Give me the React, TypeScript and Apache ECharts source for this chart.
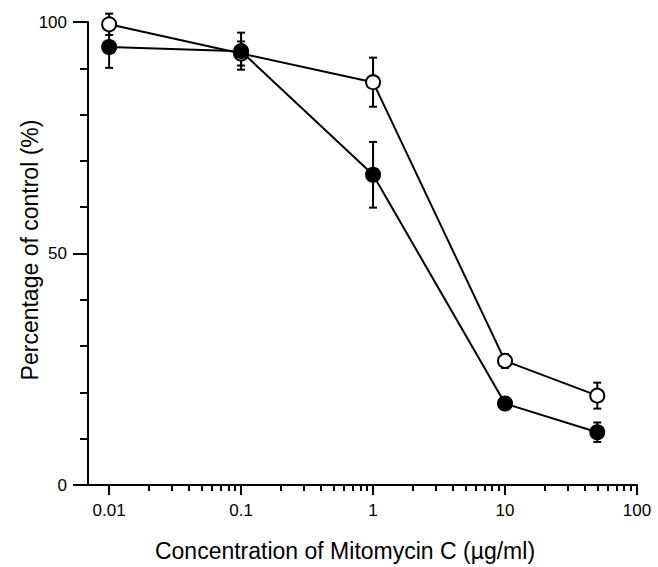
import React, { useEffect, useRef } from "react";
import * as echarts from "echarts";

const concentrations = [0.01, 0.1, 1, 10, 50];
const openMean = [99.5, 93.2, 87.0, 26.8, 19.3];
const openErr = [2.3, 2.6, 5.3, 1.5, 2.8];
const filledMean = [94.6, 93.7, 67.0, 17.6, 11.4];
const filledErr = [4.5, 4.0, 7.1, 1.3, 2.1];
const xTickValues = [0.01, 0.1, 1, 10, 100];
const xTickLabels = ["0.01", "0.1", "1", "10", "100"];
const yTickLabels = ["0", "50", "100"];

const FONT = "Liberation Sans";
const X_MIN = -2.16;
const X_MAX = 2;

export default function App() {
  const ref = useRef<HTMLDivElement>(null);
  useEffect(() => {
    document.body.style.margin = "0";
    const chart = echarts.init(ref.current!, null, { renderer: "svg" });
    const majorX = xTickValues.map((v) => Math.log10(v));
    const minorX: number[] = [];
    for (let d = -2; d <= 1; d++) {
      for (let k = 2; k <= 9; k++) minorX.push(Math.log10(k * Math.pow(10, d)));
    }
    const fmtX = (v: number) => {
      const i = majorX.findIndex((m) => Math.abs(m - v) < 1e-6);
      return i >= 0 ? xTickLabels[i] : "";
    };
    const fmtY = (v: number) => {
      const s = String(Math.round(v));
      return yTickLabels.includes(s) ? s : "";
    };
    const errData = (mean: number[], err: number[]) =>
      concentrations.map((c, i) => [Math.log10(c), mean[i] - err[i], mean[i] + err[i]]);
    const renderErr = (params: any, api: any) => {
      const x = api.value(0);
      const lo = api.coord([x, api.value(1)]);
      const hi = api.coord([x, api.value(2)]);
      const w = 4;
      const style = { stroke: "#000", lineWidth: 2 };
      return {
        type: "group",
        children: [
          { type: "line", shape: { x1: lo[0], y1: lo[1], x2: hi[0], y2: hi[1] }, style },
          { type: "line", shape: { x1: hi[0] - w, y1: hi[1], x2: hi[0] + w, y2: hi[1] }, style },
          { type: "line", shape: { x1: lo[0] - w, y1: lo[1], x2: lo[0] + w, y2: lo[1] }, style },
        ],
      };
    };
    const axisLineStyle = { color: "#000", width: 2 };
    chart.setOption({
      animation: false,
      backgroundColor: "#fff",
      textStyle: { fontFamily: FONT },
      grid: { left: 88, right: 21, top: 22, bottom: 82, containLabel: false },
      xAxis: [
        {
          type: "value",
          position: "bottom",
          min: X_MIN,
          max: X_MAX,
          axisLine: { show: true, onZero: false, lineStyle: axisLineStyle },
          axisTick: { show: true, customValues: majorX, length: 10, lineStyle: { color: "#000", width: 2 } },
          axisLabel: {
            customValues: majorX,
            formatter: fmtX,
            color: "#000",
            fontSize: 17,
            fontFamily: FONT,
            margin: 17,
          },
          splitLine: { show: false },
        },
        {
          type: "value",
          position: "bottom",
          offset: 0,
          min: X_MIN,
          max: X_MAX,
          axisLine: { show: false, onZero: false },
          axisTick: { show: true, customValues: minorX, length: 6, lineStyle: { color: "#000", width: 2 } },
          axisLabel: { show: false },
          splitLine: { show: false },
        },
      ],
      yAxis: [
        {
          type: "value",
          position: "left",
          min: 0,
          max: 100,
          interval: 50,
          axisLine: { show: true, onZero: false, lineStyle: axisLineStyle },
          axisTick: { show: true, length: 15, lineStyle: { color: "#000", width: 2 } },
          axisLabel: { formatter: fmtY, color: "#000", fontSize: 17, fontFamily: FONT, margin: 21 },
          splitLine: { show: false },
        },
        {
          type: "value",
          position: "left",
          offset: 0,
          min: 0,
          max: 100,
          interval: 10,
          axisLine: { show: false, onZero: false },
          axisTick: { show: true, length: 8, lineStyle: { color: "#000", width: 2 } },
          axisLabel: { show: false },
          splitLine: { show: false },
        },
      ],
      graphic: [
        {
          type: "text",
          x: 345,
          y: 551,
          style: {
            text: "Concentration of Mitomycin C (\u00b5g/ml)",
            fontFamily: FONT,
            fontSize: 23,
            fill: "#000",
            align: "center",
            verticalAlign: "middle",
          },
        },
        {
          type: "text",
          x: 30,
          y: 250,
          rotation: Math.PI / 2,
          style: {
            text: "Percentage of control (%)",
            fontFamily: FONT,
            fontSize: 23,
            fill: "#000",
            align: "center",
            verticalAlign: "middle",
          },
        },
      ],
      series: [
        {
          type: "custom",
          name: "open-err",
          xAxisIndex: 0,
          yAxisIndex: 0,
          renderItem: renderErr,
          data: errData(openMean, openErr),
          encode: { x: 0, y: [1, 2] },
          z: 1,
        },
        {
          type: "custom",
          name: "filled-err",
          xAxisIndex: 0,
          yAxisIndex: 0,
          renderItem: renderErr,
          data: errData(filledMean, filledErr),
          encode: { x: 0, y: [1, 2] },
          z: 1,
        },
        {
          type: "line",
          name: "Open",
          xAxisIndex: 0,
          yAxisIndex: 0,
          data: concentrations.map((c, i) => [Math.log10(c), openMean[i]]),
          symbol: "circle",
          symbolSize: 14,
          lineStyle: { color: "#000", width: 2 },
          itemStyle: { color: "#fff", borderColor: "#000", borderWidth: 2 },
          z: 3,
        },
        {
          type: "line",
          name: "Filled",
          xAxisIndex: 0,
          yAxisIndex: 0,
          data: concentrations.map((c, i) => [Math.log10(c), filledMean[i]]),
          symbol: "circle",
          symbolSize: 14,
          lineStyle: { color: "#000", width: 2 },
          itemStyle: { color: "#000", borderColor: "#000", borderWidth: 2 },
          z: 4,
        },
      ],
    });
    return () => chart.dispose();
  }, []);
  return <div ref={ref} style={{ width: 658, height: 567 }} />;
}
